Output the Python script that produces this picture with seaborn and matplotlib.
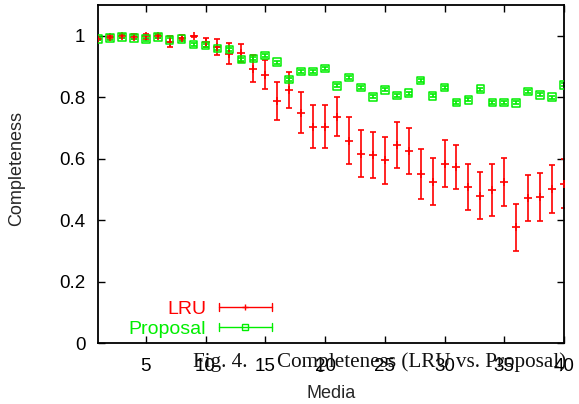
import numpy as np
import pandas as pd
import seaborn as sns
import matplotlib
matplotlib.use("Agg")
import matplotlib.pyplot as plt
from matplotlib.lines import Line2D
from matplotlib.legend_handler import HandlerBase

# ---- data ----
media = list(range(1, 41))
lru = [0.990, 0.996, 0.999, 0.996, 0.998, 0.999, 0.981, 0.993, 0.998, 0.979,
       0.963, 0.942, 0.943, 0.893, 0.873, 0.787, 0.824, 0.750, 0.704, 0.704,
       0.737, 0.659, 0.616, 0.611, 0.594, 0.645, 0.626, 0.550, 0.525, 0.584,
       0.573, 0.508, 0.479, 0.499, 0.525, 0.377, 0.472, 0.475, 0.501, 0.519]
lru_err = [0.004, 0.007, 0.008, 0.008, 0.009, 0.005, 0.017, 0.008, 0.002, 0.015,
           0.027, 0.033, 0.030, 0.045, 0.047, 0.061, 0.059, 0.067, 0.070, 0.070,
           0.064, 0.075, 0.076, 0.075, 0.075, 0.075, 0.075, 0.081, 0.076, 0.077,
           0.073, 0.076, 0.076, 0.085, 0.078, 0.076, 0.075, 0.079, 0.078, 0.079]
proposal = [0.990, 0.992, 0.996, 0.993, 0.989, 0.996, 0.986, 0.989, 0.971, 0.968,
            0.958, 0.955, 0.922, 0.926, 0.936, 0.914, 0.858, 0.883, 0.883, 0.893,
            0.837, 0.864, 0.831, 0.801, 0.824, 0.806, 0.813, 0.854, 0.804, 0.831,
            0.783, 0.791, 0.826, 0.783, 0.783, 0.782, 0.818, 0.808, 0.800, 0.840]
proposal_err = [0.005] * 40
series_names = ["LRU", "Proposal"]
x_ticks = [5, 10, 15, 20, 25, 30, 35, 40]
y_ticks = [0, 0.2, 0.4, 0.6, 0.8, 1]
y_ticklabels = ["0", "0.2", "0.4", "0.6", "0.8", "1"]

RED = "#ff0000"
GREEN = "#00ee00"

sns.set_style("ticks")
plt.rcParams["font.family"] = ["Liberation Sans", "DejaVu Sans"]

df = pd.DataFrame({"Media": media + media,
                   "Completeness": lru + proposal,
                   "err": lru_err + proposal_err,
                   "series": [series_names[0]] * 40 + [series_names[1]] * 40})

fig = plt.figure(figsize=(5.79, 4.04), dpi=100)
ax = fig.add_axes([98 / 579, 1 - 343 / 404, (564 - 98) / 579, (343 - 5) / 404])

for name, col in [("LRU", RED), ("Proposal", GREEN)]:
    sub = df[df.series == name]
    ax.errorbar(sub["Media"], sub["Completeness"], yerr=sub["err"], fmt="none",
                ecolor=col, elinewidth=1.2, capsize=2.3, capthick=1.2, zorder=2)

sub = df[df.series == "LRU"]
sns.scatterplot(data=sub, x="Media", y="Completeness", marker="+", color=RED,
                s=40, linewidth=1.2, ax=ax, legend=False, zorder=3)
sub = df[df.series == "Proposal"]
sns.scatterplot(data=sub, x="Media", y="Completeness", marker="s",
                facecolor="none", edgecolor=GREEN, s=30, linewidth=1.1,
                ax=ax, legend=False, zorder=4)

ax.set_xlim(1, 40)
ax.set_ylim(0, 1.1)
ax.set_xticks(x_ticks)
ax.set_yticks(y_ticks)
ax.set_yticklabels(y_ticklabels)
ax.tick_params(direction="in", length=5, width=1, top=True, right=True,
               labelsize=13.5, colors="black")
ax.tick_params(axis="x", pad=11)
ax.tick_params(axis="y", pad=9)
for s in ax.spines.values():
    s.set_linewidth(1.3)
    s.set_color("black")
ax.set_xlabel("Media", fontsize=13)
ax.set_ylabel("Completeness", fontsize=13)
ax.xaxis.label.set_va("center")
ax.yaxis.label.set_va("center")
ax.xaxis.set_label_coords(0.5, (343 - 393) / 338)
ax.yaxis.set_label_coords((17 - 98) / 466, (343 - 169) / 338)


class HandlerGnu(HandlerBase):
    def __init__(self, color, marker, mfc):
        super().__init__()
        self.color, self.marker, self.mfc = color, marker, mfc

    def create_artists(self, legend, orig_handle, xdescent, ydescent, width,
                       height, fontsize, trans):
        y = height / 2 - ydescent
        x0, x1 = -xdescent, -xdescent + width
        c = 3
        arts = [Line2D([x0, x1], [y, y], color=self.color, lw=1),
                Line2D([x0, x0], [y - c, y + c], color=self.color, lw=1),
                Line2D([x1, x1], [y - c, y + c], color=self.color, lw=1),
                Line2D([(x0 + x1) / 2], [y], marker=self.marker, ms=5,
                       mfc=self.mfc, mec=self.color, color=self.color, mew=1)]
        for a in arts:
            a.set_transform(trans)
        return arts


h1 = Line2D([], [], color=RED)
h2 = Line2D([], [], color=GREEN)
leg = ax.legend([h1, h2], series_names, loc="lower right",
                bbox_to_anchor=((272 - 98) / 466, (343 - 337.5) / 338),
                frameon=False, markerfirst=False,
                fontsize=14, handlelength=2.75, handletextpad=0.65,
                labelspacing=0.12, borderaxespad=0.0, borderpad=0.0,
                handler_map={h1: HandlerGnu(RED, "+", RED),
                             h2: HandlerGnu(GREEN, "s", "none")})
for t, c in zip(leg.get_texts(), [RED, GREEN]):
    t.set_color(c)

# overlapping caption text from the source page
fig.text(193 / 579, 1 - 367 / 404, "Fig. 4.", fontsize=15.2,
         family=["Liberation Serif", "DejaVu Serif"], color="#111111",
         va="baseline", ha="left")
fig.text(277 / 579, 1 - 367 / 404, "Completeness (LRU vs. Proposal)",
         fontsize=15.2, family=["Liberation Serif", "DejaVu Serif"],
         color="#111111", va="baseline", ha="left")

fig.savefig("out.png", dpi=100)
